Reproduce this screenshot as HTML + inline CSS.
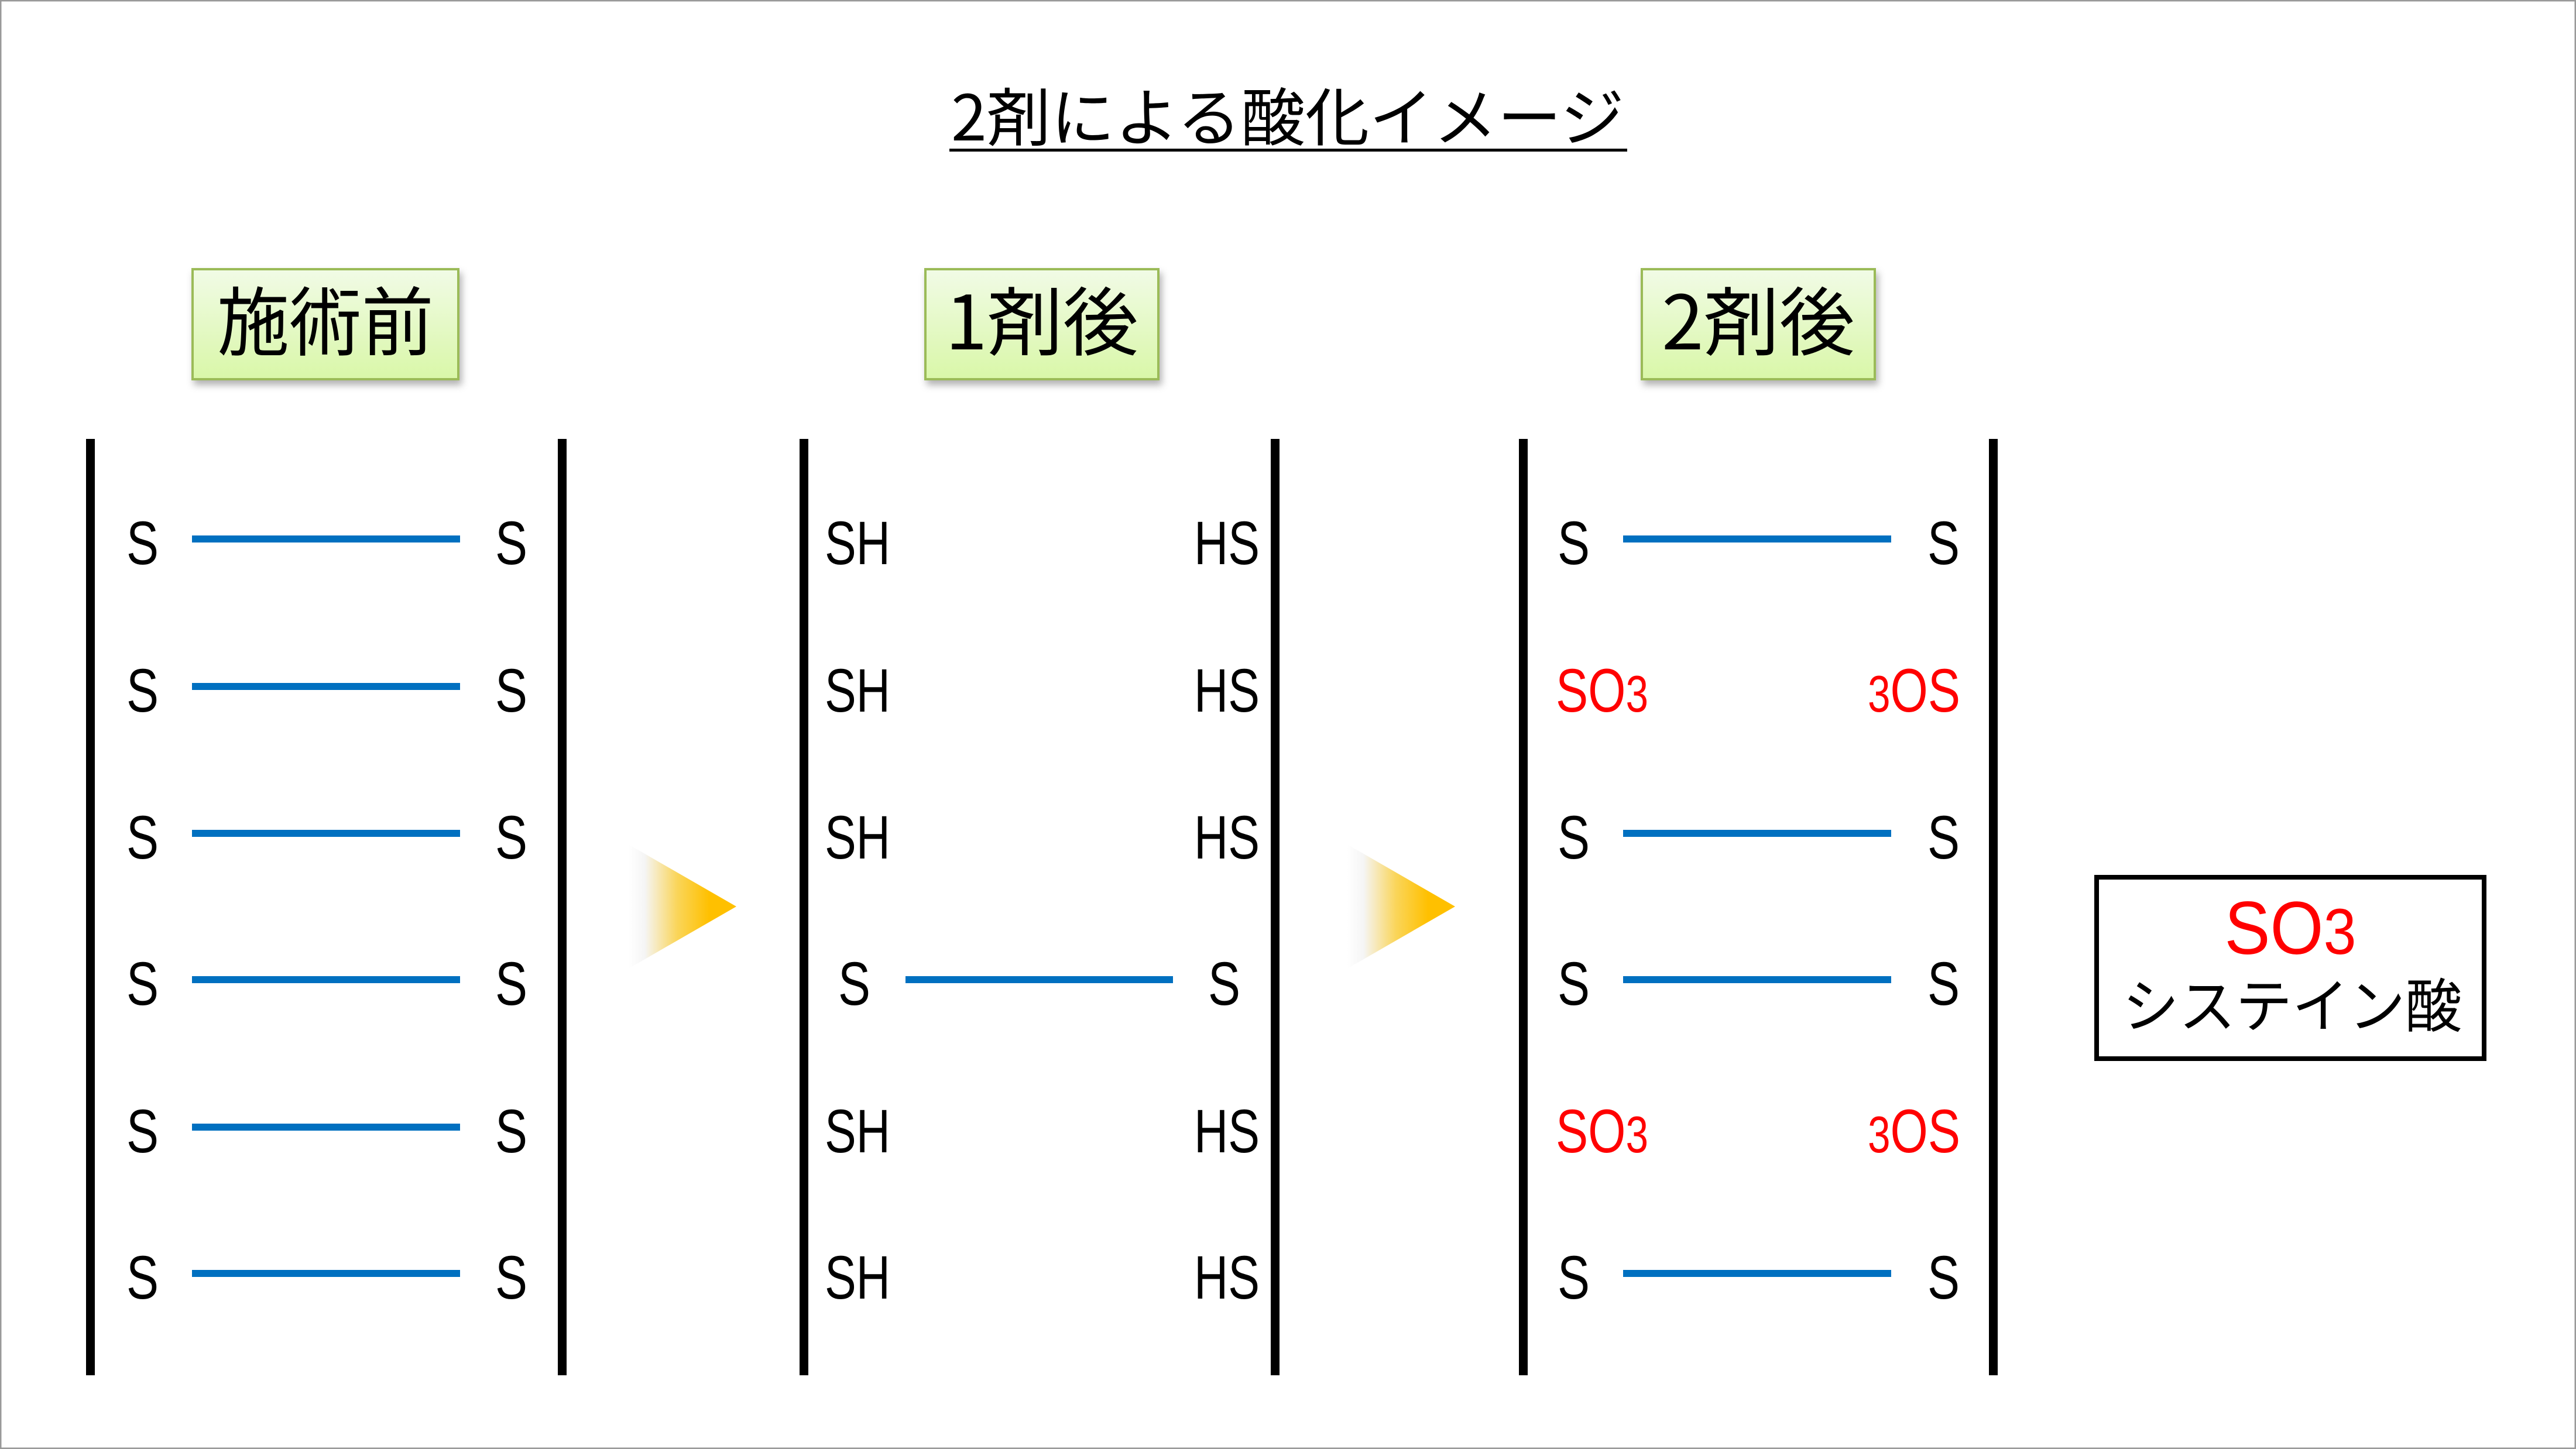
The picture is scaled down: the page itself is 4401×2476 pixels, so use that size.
<!DOCTYPE html>
<html><head><meta charset="utf-8"><style>
html,body{margin:0;padding:0;background:#fff;}
svg{display:block;}
text{font-family:"Liberation Sans","Noto Sans CJK JP",sans-serif;}
.j{font-family:"Noto Sans CJK JP",sans-serif;}
</style></head><body>
<svg width="4401" height="2476" viewBox="0 0 4401 2476" xmlns="http://www.w3.org/2000/svg">
<defs>
<linearGradient id="gb" x1="0" y1="0" x2="0" y2="1"><stop offset="0" stop-color="#f1fbe6"/><stop offset="1" stop-color="#d9f7a8"/></linearGradient>
<linearGradient id="ga" x1="0" y1="0" x2="1" y2="0"><stop offset="0" stop-color="#ffffff"/><stop offset="0.15" stop-color="#f5f5f5"/><stop offset="0.45" stop-color="#fad55a"/><stop offset="0.75" stop-color="#ffc000"/><stop offset="1" stop-color="#ffc000"/></linearGradient>
<filter id="sh" x="-10%" y="-10%" width="120%" height="130%"><feDropShadow dx="4" dy="8" stdDeviation="6" flood-color="#000" flood-opacity="0.3"/></filter>
</defs>
<rect x="1" y="1" width="4399" height="2474" fill="#fff" stroke="#999" stroke-width="3"/>
<!-- title -->
<text x="2200" y="240" font-size="108" text-anchor="middle" class="j" textLength="1150" lengthAdjust="spacingAndGlyphs">2剤による酸化イメージ</text>
<rect x="1622" y="254" width="1158" height="5" fill="#000"/>
<!-- header boxes -->
<g filter="url(#sh)">
<rect x="329" y="460" width="454" height="188" fill="url(#gb)" stroke="#9bbb59" stroke-width="4"/>
<rect x="1581" y="460" width="398" height="188" fill="url(#gb)" stroke="#9bbb59" stroke-width="4"/>
<rect x="2805" y="460" width="398" height="188" fill="url(#gb)" stroke="#9bbb59" stroke-width="4"/>
</g>
<text x="556" y="597" font-size="128" text-anchor="middle" class="j" textLength="370" lengthAdjust="spacingAndGlyphs">施術前</text>
<text x="1780" y="597" font-size="128" text-anchor="middle" class="j" textLength="330" lengthAdjust="spacingAndGlyphs">1剤後</text>
<text x="3004" y="597" font-size="128" text-anchor="middle" class="j" textLength="330" lengthAdjust="spacingAndGlyphs">2剤後</text>
<!-- vertical lines -->
<g fill="#000">
<rect x="147" y="750" width="15" height="1600"/>
<rect x="953" y="750" width="15" height="1600"/>
<rect x="1366" y="750" width="15" height="1600"/>
<rect x="2171" y="750" width="15" height="1600"/>
<rect x="2595" y="750" width="15" height="1600"/>
<rect x="3398" y="750" width="15" height="1600"/>
</g>
<!-- panel 1 -->
<g font-size="105">
<g fill="#0070c0">
<rect x="328" y="915" width="458" height="12"/>
<rect x="328" y="1167" width="458" height="12"/>
<rect x="328" y="1418" width="458" height="12"/>
<rect x="328" y="1668" width="458" height="12"/>
<rect x="328" y="1920" width="458" height="12"/>
<rect x="328" y="2170" width="458" height="12"/>
<rect x="1547" y="1668" width="457" height="12"/>
<rect x="2773" y="915" width="458" height="12"/>
<rect x="2773" y="1418" width="458" height="12"/>
<rect x="2773" y="1668" width="458" height="12"/>
<rect x="2773" y="2170" width="458" height="12"/>
</g>
<g>
<text x="216" y="964" textLength="55" lengthAdjust="spacingAndGlyphs">S</text><text x="846" y="964" textLength="55" lengthAdjust="spacingAndGlyphs">S</text>
<text x="216" y="1216" textLength="55" lengthAdjust="spacingAndGlyphs">S</text><text x="846" y="1216" textLength="55" lengthAdjust="spacingAndGlyphs">S</text>
<text x="216" y="1467" textLength="55" lengthAdjust="spacingAndGlyphs">S</text><text x="846" y="1467" textLength="55" lengthAdjust="spacingAndGlyphs">S</text>
<text x="216" y="1717" textLength="55" lengthAdjust="spacingAndGlyphs">S</text><text x="846" y="1717" textLength="55" lengthAdjust="spacingAndGlyphs">S</text>
<text x="216" y="1969" textLength="55" lengthAdjust="spacingAndGlyphs">S</text><text x="846" y="1969" textLength="55" lengthAdjust="spacingAndGlyphs">S</text>
<text x="216" y="2219" textLength="55" lengthAdjust="spacingAndGlyphs">S</text><text x="846" y="2219" textLength="55" lengthAdjust="spacingAndGlyphs">S</text>
</g>
<!-- panel 2 -->
<g>
<text x="1409" y="964" textLength="112" lengthAdjust="spacingAndGlyphs">SH</text><text x="2040" y="964" textLength="112" lengthAdjust="spacingAndGlyphs">HS</text>
<text x="1409" y="1216" textLength="112" lengthAdjust="spacingAndGlyphs">SH</text><text x="2040" y="1216" textLength="112" lengthAdjust="spacingAndGlyphs">HS</text>
<text x="1409" y="1467" textLength="112" lengthAdjust="spacingAndGlyphs">SH</text><text x="2040" y="1467" textLength="112" lengthAdjust="spacingAndGlyphs">HS</text>
<text x="1432" y="1717" textLength="55" lengthAdjust="spacingAndGlyphs">S</text><text x="2064" y="1717" textLength="55" lengthAdjust="spacingAndGlyphs">S</text>
<text x="1409" y="1969" textLength="112" lengthAdjust="spacingAndGlyphs">SH</text><text x="2040" y="1969" textLength="112" lengthAdjust="spacingAndGlyphs">HS</text>
<text x="1409" y="2219" textLength="112" lengthAdjust="spacingAndGlyphs">SH</text><text x="2040" y="2219" textLength="112" lengthAdjust="spacingAndGlyphs">HS</text>
</g>
<!-- panel 3 -->
<g>
<text x="2661" y="964" textLength="55" lengthAdjust="spacingAndGlyphs">S</text><text x="3293" y="964" textLength="55" lengthAdjust="spacingAndGlyphs">S</text>
<text x="2658" y="1216" fill="#ff0000" textLength="158" lengthAdjust="spacingAndGlyphs">SO<tspan font-size="88">3</tspan></text><text x="3191" y="1216" fill="#ff0000" textLength="158" lengthAdjust="spacingAndGlyphs"><tspan font-size="88">3</tspan>OS</text>
<text x="2661" y="1467" textLength="55" lengthAdjust="spacingAndGlyphs">S</text><text x="3293" y="1467" textLength="55" lengthAdjust="spacingAndGlyphs">S</text>
<text x="2661" y="1717" textLength="55" lengthAdjust="spacingAndGlyphs">S</text><text x="3293" y="1717" textLength="55" lengthAdjust="spacingAndGlyphs">S</text>
<text x="2658" y="1969" fill="#ff0000" textLength="158" lengthAdjust="spacingAndGlyphs">SO<tspan font-size="88">3</tspan></text><text x="3191" y="1969" fill="#ff0000" textLength="158" lengthAdjust="spacingAndGlyphs"><tspan font-size="88">3</tspan>OS</text>
<text x="2661" y="2219" textLength="55" lengthAdjust="spacingAndGlyphs">S</text><text x="3293" y="2219" textLength="55" lengthAdjust="spacingAndGlyphs">S</text>
</g>
</g>
<!-- arrows -->
<polygon points="1074,1443 1258,1549 1074,1655" fill="url(#ga)"/>
<polygon points="2302,1443 2486,1549 2302,1655" fill="url(#ga)"/>
<!-- SO3 box -->
<rect x="3582" y="1499" width="662" height="310" fill="#fff" stroke="#000" stroke-width="8"/>
<text x="3913" y="1630" font-size="128" fill="#ff0000" text-anchor="middle" textLength="225" lengthAdjust="spacingAndGlyphs">SO<tspan font-size="110">3</tspan></text>
<text x="3916" y="1755" font-size="100" text-anchor="middle" class="j" textLength="580" lengthAdjust="spacingAndGlyphs">システイン酸</text>
</svg>
</body></html>
